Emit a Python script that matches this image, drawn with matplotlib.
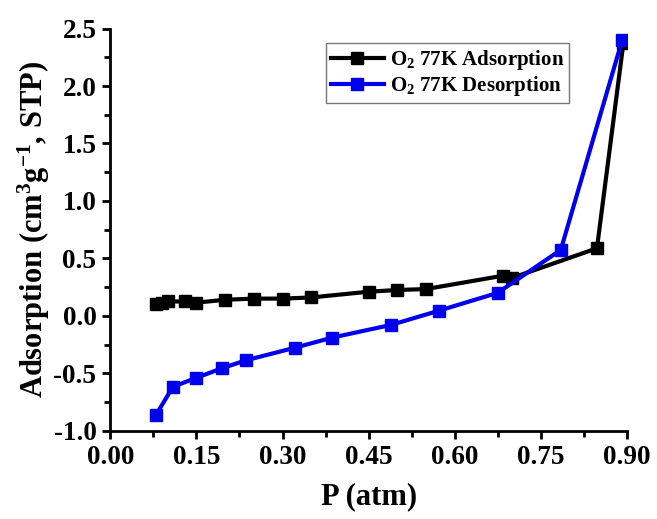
import numpy as np
import matplotlib
matplotlib.use('Agg')
import matplotlib.pyplot as plt
from matplotlib.ticker import MultipleLocator

# fonts : style Times gras
plt.rcParams['font.family'] = ['Liberation Serif', 'DejaVu Serif']
plt.rcParams['font.weight'] = 'bold'
plt.rcParams['mathtext.fontset'] = 'custom'
plt.rcParams['mathtext.rm'] = 'Liberation Serif:bold'
plt.rcParams['mathtext.bf'] = 'Liberation Serif:bold'
plt.rcParams['mathtext.default'] = 'bf'

# donnees
p_ads = [0.08, 0.09, 0.10, 0.13, 0.15, 0.20, 0.25, 0.30, 0.35, 0.45, 0.50,
         0.55, 0.685, 0.70, 0.848, 0.894]
v_ads = [0.10, 0.115, 0.125, 0.125, 0.115, 0.14, 0.15, 0.15, 0.16, 0.21,
         0.225, 0.233, 0.35, 0.33, 0.588, 2.37]

p_des = [0.079, 0.109, 0.150, 0.194, 0.236, 0.322, 0.386, 0.489, 0.572,
         0.675, 0.785, 0.892]
v_des = [-0.867, -0.617, -0.539, -0.457, -0.387, -0.277, -0.19, -0.079,
         0.044, 0.20, 0.574, 2.40]

x_ticks = [0.00, 0.15, 0.30, 0.45, 0.60, 0.75, 0.90]
y_ticks = [-1.0, -0.5, 0.0, 0.5, 1.0, 1.5, 2.0, 2.5]

fig = plt.figure(figsize=(6.57, 5.19), dpi=100)
ax = fig.add_axes([0.168, 0.170, 0.786, 0.775])

ax.plot(p_ads, v_ads, color='black', lw=3, marker='s', ms=8,
        label='O$_2$ 77K Adsorption')
ax.plot(p_des, v_des, color='#0000ee', lw=3, marker='s', ms=8,
        label='O$_2$ 77K Desorption')

ax.set_xlim(0, 0.90)
ax.set_ylim(-1.0, 2.5)
ax.set_xticks(x_ticks)
ax.set_xticklabels(['%.2f' % t for t in x_ticks])
ax.set_yticks(y_ticks)
ax.set_yticklabels(['%.1f' % t for t in y_ticks])
ax.xaxis.set_minor_locator(MultipleLocator(0.075))
ax.yaxis.set_minor_locator(MultipleLocator(0.25))

ax.spines['top'].set_visible(False)
ax.spines['right'].set_visible(False)
for s in ['left', 'bottom']:
    ax.spines[s].set_linewidth(2)
ax.tick_params(which='major', direction='out', length=6, width=2,
               labelsize=19.5, pad=4)
ax.tick_params(which='minor', direction='out', length=4, width=2)

ax.set_xlabel('P (atm)', fontsize=22, fontweight='bold', labelpad=9)
ax.set_ylabel('Adsorption (cm$^3$g$^{-1}$, STP)', fontsize=22,
              fontweight='bold', labelpad=1)

leg = ax.legend(loc='upper left', bbox_to_anchor=(0.418, 0.965),
                fontsize=15, frameon=True, fancybox=False,
                handlelength=2.5, borderpad=0.25, labelspacing=0.1,
                handletextpad=0.3, borderaxespad=0)
leg.get_frame().set_edgecolor('#555555')
leg.get_frame().set_linewidth(1)

fig.savefig('out.png', dpi=100)
